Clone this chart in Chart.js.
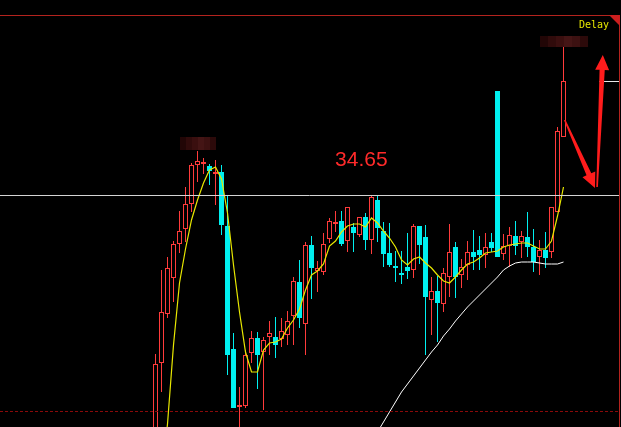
<!DOCTYPE html>
<html>
<head>
<meta charset="utf-8">
<script src="https://cdn.jsdelivr.net/npm/chart.js@4.4.0/dist/chart.umd.min.js"></script>
<style>
  html, body { margin: 0; padding: 0; background: #000; overflow: hidden; }
  #wrap { width: 621px; height: 427px; position: relative; }
</style>
</head>
<body>
<div id="wrap"><canvas id="kline"></canvas></div>
<script>
/*
 * K-line panel. Values are price levels, counted
 * downwards from the top of the panel (axis is reversed), one per bar.
 */
const opens  = [440,363,314,278,244,229,204,165,163,166,173,172,226,349,406,406,353,338,352,337,
                337,339,335,316,282,324,245,271,272,239,223,221,241,227,235,217,240,200,231,253,
                266,273,267,270,226,237,300,291,304,277,247,275,265,252,250,255,242, 91,254,246,
                236,242,237,247,257,250,252,212,137];
const highs  = [354,270,257,241,211,187,163,151,158,164,160,165,196,333,387,350,331,332,337,321,
                317,318,311,277,260,242,236,261,233,218,211,211,207,223,217,213,196,196,222,223,
                251,251,233,224,226,225,277,276,268,224,242,259,241,230,236,233,233, 91,234,227,
                221,231,212,229,240,232,207,127, 47];
const lows   = [450,392,318,302,253,242,212,182,174,185,205,235,375,408,432,408,363,389,410,355,
                358,347,345,345,328,355,299,292,275,243,232,246,252,252,237,250,254,242,267,267,
                282,284,279,278,264,355,335,342,312,297,298,288,280,270,270,268,252,257,260,267,
                255,258,257,272,275,268,258,212,137];
const closes = [364,312,268,244,231,204,165,161,162,171,172,225,355,408,405,355,338,355,340,333,
                345,331,321,281,318,245,268,268,244,221,222,244,207,233,217,240,197,228,254,265,
                267,274,271,226,245,297,291,303,273,252,277,267,252,257,255,247,248,257,246,235,
                246,236,247,262,250,258,207,131, 81];

// short average (yellow) and long average (white), null where not drawn
const maShort = [null,480,424,345,283,249,220,200,183,170,167,179,213,265,312,352,372,372,350,343,
                 342,339,328,320,309,290,275,271,264,246,241,232,226,224,224,227,218,223,231,238,
                 247,260,265,259,257,263,268,275,281,283,277,270,264,262,258,253,252,251,247,245,
                 244,243,243,246,249,249,241,216,187];
const maLong  = [null,null,null,null,null,null,null,null,null,null,null,null,null,null,null,null,null,null,null,null,
                 null,null,null,null,null,null,null,null,null,null,null,null,null,null,null,null,null,432,422,412,
                 402,392,384,376,368,360,352,345,336,329,321,314,307,301,295,289,283,277,270,266,
                 263,262,262,262,263,264,264,264,262];

const refLevel  = 195;   // white horizontal line
const baseLevel = 411;   // dashed dark red line
const priceLabel = { text: '34.65', x: 34.3, level: 166 };
const delayLabel = 'Delay';
const maskBoxes = [
  { x0: 4.1,  x1: 10.1, top: 137, bottom: 150 },
  { x0: 64.1, x1: 72.1, top: 36,  bottom: 47 }
];
const arrows = [
  { from: [68.2, 120], to: [73.25, 188] },
  { from: [73.6, 187], to: [74.55, 55] }
];

const UP = '#ff3b3b', DOWN = '#00f0f0';
const isUp = closes.map((c, i) => c < opens[i]);
const upOr = (a, b) => ctx => (isUp[ctx.dataIndex] ? a : b);

const decor = {
  id: 'decor',
  afterDatasetsDraw(chart) {
    const { ctx, chartArea: a, scales: { x, y } } = chart;
    const py = v => Math.round(y.getPixelForValue(v)) + 0.5;
    ctx.save();

    // horizontal rules
    ctx.lineWidth = 1;
    ctx.strokeStyle = '#d4d4d4';
    ctx.beginPath(); ctx.moveTo(a.left, py(refLevel)); ctx.lineTo(a.right, py(refLevel)); ctx.stroke();
    ctx.strokeStyle = '#8a0a0a';
    ctx.setLineDash([3, 2]);
    ctx.beginPath(); ctx.moveTo(a.left, py(baseLevel)); ctx.lineTo(a.right, py(baseLevel)); ctx.stroke();
    ctx.setLineDash([]);

    // last price marker at the right edge
    const last = closes.length - 1;
    ctx.strokeStyle = '#e8e8e8';
    ctx.beginPath();
    ctx.moveTo(x.getPixelForValue(last + 6), py(closes[last]));
    ctx.lineTo(a.right, py(closes[last]));
    ctx.stroke();

    // masked labels
    const shades = ['#220606', '#300b0b', '#3a0f0f', '#441515', '#3c1111', '#2c0a0a'];
    maskBoxes.forEach(b => {
      const l = x.getPixelForValue(b.x0), r = x.getPixelForValue(b.x1);
      const t = y.getPixelForValue(b.top), btm = y.getPixelForValue(b.bottom);
      const w = (r - l) / shades.length;
      shades.forEach((c, k) => { ctx.fillStyle = c; ctx.fillRect(Math.round(l + k * w), t, Math.ceil(w), btm - t); });
    });

    // price text
    ctx.fillStyle = '#ff2a2a';
    ctx.font = '21px "Liberation Sans", Arial, sans-serif';
    ctx.textAlign = 'center';
    ctx.textBaseline = 'alphabetic';
    ctx.fillText(priceLabel.text, x.getPixelForValue(priceLabel.x), y.getPixelForValue(priceLabel.level));

    // arrows (tapered shaft + head)
    ctx.fillStyle = '#ff1c1c';
    arrows.forEach(ar => {
      const x0 = x.getPixelForValue(ar.from[0]), y0 = y.getPixelForValue(ar.from[1]);
      const x1 = x.getPixelForValue(ar.to[0]),   y1 = y.getPixelForValue(ar.to[1]);
      const len = Math.hypot(x1 - x0, y1 - y0);
      const dx = (x1 - x0) / len, dy = (y1 - y0) / len;
      const nx = -dy, ny = dx;
      const L = 15, W = 7, s0 = 0.8, s1 = 2.6;
      const bx = x1 - dx * L, by = y1 - dy * L;
      ctx.beginPath();
      ctx.moveTo(x0 + nx * s0, y0 + ny * s0);
      ctx.lineTo(bx + nx * s1, by + ny * s1);
      ctx.lineTo(bx + nx * W, by + ny * W);
      ctx.lineTo(x1, y1);
      ctx.lineTo(bx - nx * W, by - ny * W);
      ctx.lineTo(bx - nx * s1, by - ny * s1);
      ctx.lineTo(x0 - nx * s0, y0 - ny * s0);
      ctx.closePath();
      ctx.fill();
    });

    // frame, corner mark and status text
    ctx.strokeStyle = '#b4231e';
    ctx.beginPath();
    ctx.moveTo(0, a.top + 0.5); ctx.lineTo(a.right + 1, a.top + 0.5);
    ctx.moveTo(a.right + 0.5, a.top); ctx.lineTo(a.right + 0.5, a.bottom);
    ctx.stroke();
    ctx.fillStyle = '#cc1e1e';
    ctx.beginPath();
    ctx.moveTo(a.right - 10, a.top); ctx.lineTo(a.right + 1, a.top); ctx.lineTo(a.right + 1, a.top + 11);
    ctx.closePath(); ctx.fill();
    ctx.fillStyle = '#e6e600';
    ctx.font = '10px "DejaVu Sans Mono", monospace';
    ctx.textAlign = 'right';
    ctx.fillText(delayLabel, a.right - 10, a.top + 13);

    ctx.restore();
  }
};

new Chart(document.getElementById('kline'), {
  type: 'bar',
  data: {
    datasets: [
      {
        label: 'wick',
        data: highs.map((h, i) => ({ x: i, y: [h, lows[i]] })),
        backgroundColor: upOr(UP, DOWN),
        borderWidth: 0,
        barThickness: 1,
        grouped: false,
        inflateAmount: 0,
        order: 3
      },
      {
        label: 'body',
        data: opens.map((o, i) => ({ x: i, y: [o, closes[i]] })),
        backgroundColor: upOr('#000000', DOWN),
        borderColor: upOr(UP, DOWN),
        borderWidth: upOr(1, 0),
        borderSkipped: false,
        barThickness: 5,
        minBarLength: 2,
        grouped: false,
        inflateAmount: 0,
        order: 2
      },
      {
        type: 'line',
        label: 'MA short',
        data: maShort.map((v, i) => ({ x: i, y: v })),
        borderColor: '#e8e800',
        borderWidth: 1.2,
        pointRadius: 0,
        spanGaps: false,
        order: 1
      },
      {
        type: 'line',
        label: 'MA long',
        data: maLong.map((v, i) => ({ x: i, y: v })),
        borderColor: '#ffffff',
        borderWidth: 1,
        pointRadius: 0,
        spanGaps: false,
        order: 1
      }
    ]
  },
  options: {
    responsive: true,
    maintainAspectRatio: false,
    animation: false,
    layout: { padding: { top: 15, right: 2, left: 0, bottom: 0 } },
    plugins: { legend: { display: false }, tooltip: { enabled: false } },
    scales: {
      x: { type: 'linear', display: false, offset: false, min: -25.9167, max: 77.25 },
      y: { type: 'linear', display: false, reverse: true, min: 15, max: 427 }
    }
  },
  plugins: [decor]
});
</script>
</body>
</html>
